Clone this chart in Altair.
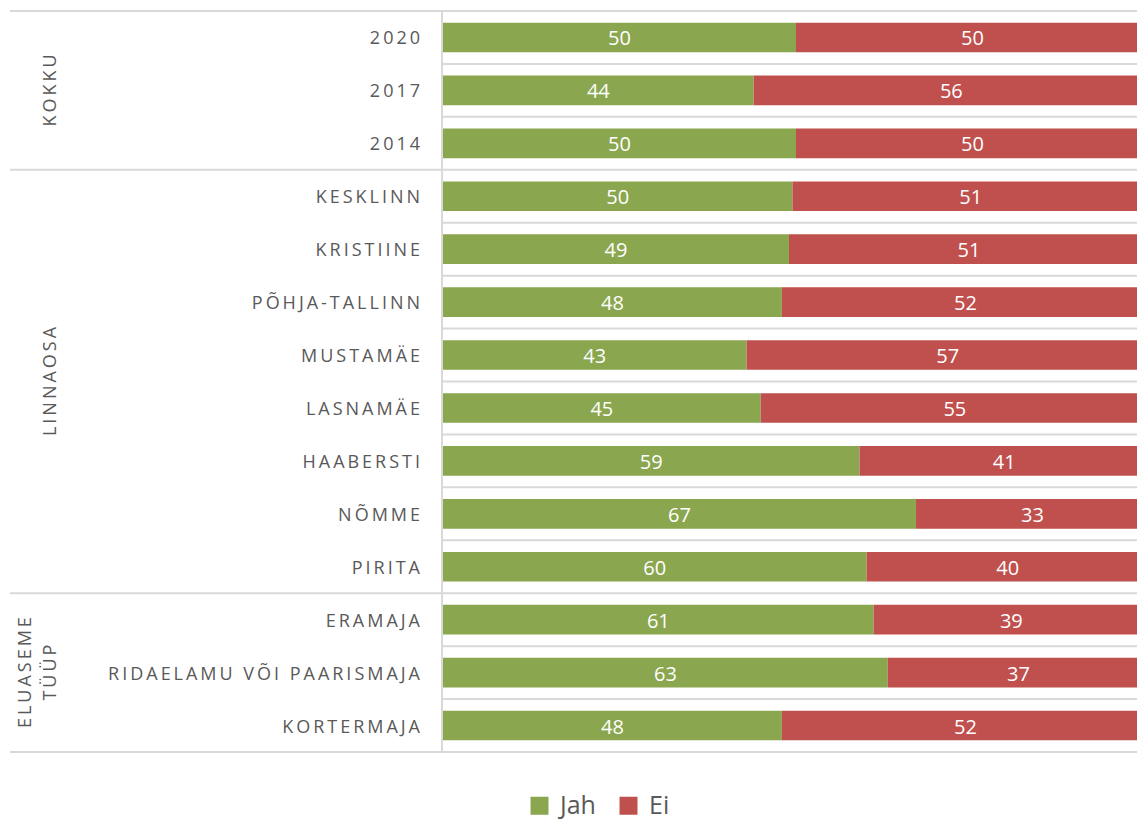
import altair as alt
import pandas as pd

categories = ["2020", "2017", "2014", "KESKLINN", "KRISTIINE", "PÕHJA-TALLINN",
              "MUSTAMÄE", "LASNAMÄE", "HAABERSTI", "NÕMME", "PIRITA",
              "ERAMAJA", "RIDAELAMU VÕI PAARISMAJA", "KORTERMAJA"]
jah = [50, 44, 50, 49.5, 49, 48, 43, 45, 59, 67, 60, 61, 63, 48]
ei = [50, 56, 50, 50.5, 51, 52, 57, 55, 41, 33, 40, 39, 37, 52]
groups = [["KOKKU"], ["LINNAOSA"], ["ELUASEME", "TÜÜP"]]
group_sizes = [3, 8, 3]
series = ["Jah", "Ei"]
colors = ["#8AA64F", "#C0504D"]

GRID = "#D9D9D9"
TXT = "#595959"
FONT = "Open Sans"
W, H = 694, 741
UNIT_PX = 7.06
SP = "\u2009"


def spaced(s):
    return SP.join(s)


rows = []
for i, c in enumerate(categories):
    rows.append({"row": i, "cat": c, "answer": "Jah", "ord": 0, "value": jah[i]})
    rows.append({"row": i, "cat": c, "answer": "Ei", "ord": 1, "value": ei[i]})
df = pd.DataFrame(rows)

cat_df = pd.DataFrame({"row": list(range(len(categories))),
                       "label": [spaced(c) + ("\u00a0" if c == "ERAMAJA" else "") for c in categories]})

starts = []
s = 0
for g in group_sizes:
    starts.append(s)
    s += g
group_bounds = [b - 0.5 for b in starts] + [s - 0.5]
inner_bounds = [r + 0.5 for r in range(len(categories) - 1) if (r + 0.5) not in group_bounds]
centers = [st + (g - 1) / 2 for st, g in zip(starts, group_sizes)]

grp_rows = []
for lines, c in zip(groups, centers):
    n = len(lines)
    for j, ln in enumerate(lines):
        grp_rows.append({"c": c, "t": spaced(ln), "k": n - 1 - j})
grp_df = pd.DataFrame(grp_rows)

xs = alt.Scale(domain=[0, W / UNIT_PX], nice=False, zero=False)
ys = alt.Scale(domain=[-0.5, len(categories) - 0.5], reverse=True, nice=False, zero=False)

base = alt.Chart(df).transform_stack(
    stack="value", groupby=["row"], as_=["x0", "x1"], sort=[alt.SortField("ord")]
).transform_calculate(
    y0="datum.row - 0.28", y1="datum.row + 0.28", mid="(datum.x0 + datum.x1) / 2"
)

bars = base.mark_bar(clip=True).encode(
    x=alt.X("x0:Q", scale=xs, axis=None),
    x2="x1:Q",
    y=alt.Y("y0:Q", scale=ys, axis=None),
    y2="y1:Q",
    color=alt.Color("answer:N", scale=alt.Scale(domain=series, range=colors),
                    legend=alt.Legend(orient="none", legendX=84, legendY=782,
                                      direction="horizontal", title=None,
                                      symbolType="square", symbolSize=324,
                                      symbolStrokeWidth=0, labelFontSize=25,
                                      labelColor=TXT, labelFont=FONT,
                                      columnPadding=20, labelOffset=8, padding=0)),
)

vals = base.mark_text(color="white", fontSize=20, font=FONT, baseline="middle",
                      align="center", dy=2).encode(
    x=alt.X("mid:Q", scale=xs, axis=None),
    y=alt.Y("row:Q", scale=ys, axis=None),
    text=alt.Text("value:Q", format=".0f"),
)

inner = alt.Chart(pd.DataFrame({"b": inner_bounds})).mark_rule(color=GRID, strokeWidth=2).encode(
    y=alt.Y("b:Q", scale=ys, axis=None), x=alt.value(0), x2=alt.value(W)
)
outer = alt.Chart(pd.DataFrame({"b": group_bounds})).mark_rule(color=GRID, strokeWidth=2).encode(
    y=alt.Y("b:Q", scale=ys, axis=None), x=alt.value(-433), x2=alt.value(W)
)
vaxis = alt.Chart(pd.DataFrame({"a": [0]})).mark_rule(color=GRID, strokeWidth=2).encode(
    x=alt.value(-1), y=alt.value(0), y2=alt.value(H)
)

cat_labels = alt.Chart(cat_df).mark_text(align="right", baseline="middle", fontSize=18,
                                         font=FONT, color=TXT, dy=2).encode(
    x=alt.value(-23), y=alt.Y("row:Q", scale=ys, axis=None), text="label:N"
)

g_last = alt.Chart(grp_df).transform_filter("datum.k == 0").mark_text(
    angle=270, align="center", baseline="middle", fontSize=18, font=FONT, color=TXT).encode(
    x=alt.value(-392), y=alt.Y("c:Q", scale=ys, axis=None), text="t:N"
)
g_prev = alt.Chart(grp_df).transform_filter("datum.k == 1").mark_text(
    angle=270, align="center", baseline="middle", fontSize=18, font=FONT, color=TXT).encode(
    x=alt.value(-417), y=alt.Y("c:Q", scale=ys, axis=None), text="t:N"
)

chart = alt.layer(inner, outer, vaxis, bars, vals, cat_labels, g_last, g_prev).properties(
    width=W, height=H,
    autosize=alt.AutoSizeParams(type="none"),
    padding={"left": 435, "top": 3, "right": 0, "bottom": 68},
).configure_view(stroke=None)

chart.save("out.html", embed_options={"renderer": "svg", "actions": False})
